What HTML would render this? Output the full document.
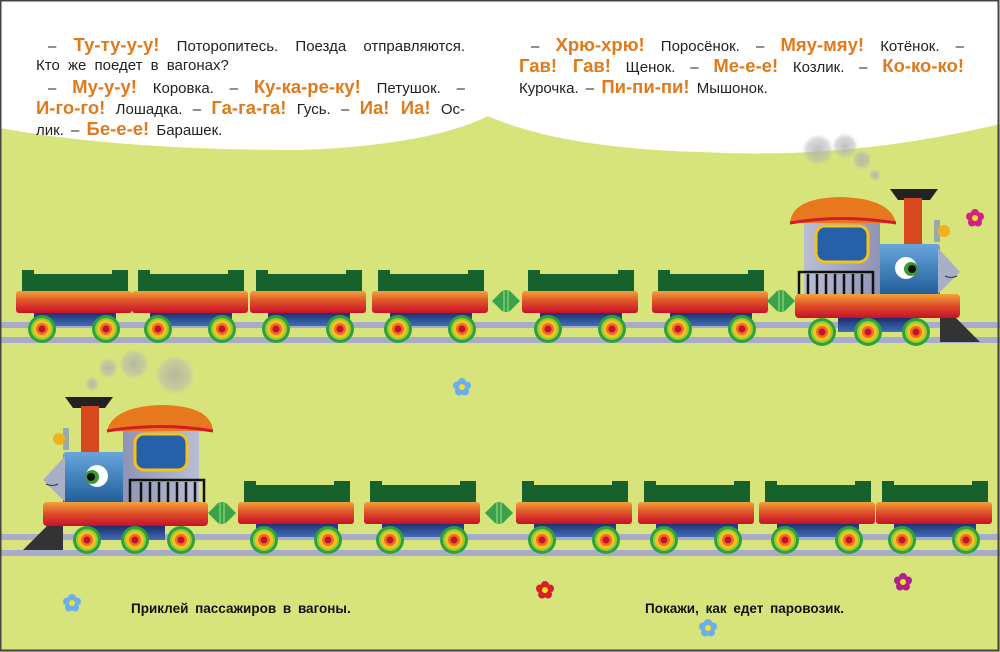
<!DOCTYPE html>
<html><head><meta charset="utf-8"><style>
body{margin:0;width:1000px;height:652px;overflow:hidden;background:#d7e47c;font-family:"Liberation Sans","DejaVu Sans",sans-serif}
#w{position:relative;width:1000px;height:652px}
svg{position:absolute;left:0;top:0}
.t{position:absolute;font-size:15px;color:#222;white-space:nowrap}
.ln{text-align:justify;text-align-last:justify;height:21px;line-height:21px}
.o{color:#e07a1c;font-weight:bold;font-size:18.5px}
.b{position:absolute;font-size:13.5px;font-weight:bold;color:#111;top:601px}
</style></head><body><div id="w">
<svg width="1000" height="652" viewBox="0 0 1000 652">
<defs>
<linearGradient id="cyl" x1="0" y1="0" x2="0" y2="1"><stop offset="0" stop-color="#f2a23a"/><stop offset="0.45" stop-color="#e0542a"/><stop offset="1" stop-color="#c8102a"/></linearGradient>
<linearGradient id="und" x1="0" y1="0" x2="0" y2="1"><stop offset="0" stop-color="#1a2560"/><stop offset="1" stop-color="#3f6cb8"/></linearGradient>
<linearGradient id="boil" x1="0" y1="0" x2="0" y2="1"><stop offset="0" stop-color="#6aa6dc"/><stop offset="1" stop-color="#1e5c98"/></linearGradient>
<linearGradient id="cab" x1="0" y1="0" x2="1" y2="0"><stop offset="0" stop-color="#b9bdd4"/><stop offset="1" stop-color="#8f94b4"/></linearGradient>
<radialGradient id="sm"><stop offset="0" stop-color="#aaa" stop-opacity=".75"/><stop offset="0.7" stop-color="#b4b4b4" stop-opacity=".5"/><stop offset="1" stop-color="#bbb" stop-opacity="0"/></radialGradient>
<g id="wh"><circle r="14" fill="#2fa03a"/><circle r="11" fill="#8ccf3a"/><circle r="9" fill="#f7c01c"/><circle r="6" fill="#e8702a"/><circle r="3.5" fill="#c8102a"/></g>
<g id="wag">
<path d="M6 0h12v4h78v-4h16v21h-106z" fill="#17622c"/>
<rect x="18" y="40" width="82" height="16" fill="url(#und)"/>
<rect x="0" y="21" width="116" height="22" rx="3" fill="url(#cyl)"/>
<use href="#wh" x="26" y="59"/><use href="#wh" x="90" y="59"/>
</g>
<g id="dia"><path d="M-14 0L-4 -10L0 -11L4 -10L14 0L4 10L0 11L-4 10Z" fill="#3aa248"/><path d="M-2 -10v20M2 -10v20" stroke="#9fe08a" stroke-width="1"/></g>
<g id="fl"><g fill="currentColor"><circle cx="0" cy="-5" r="4"/><circle cx="5" cy="-1.5" r="4"/><circle cx="3" cy="4.5" r="4"/><circle cx="-3" cy="4.5" r="4"/><circle cx="-5" cy="-1.5" r="4"/></g><circle r="3" fill="#f5e21a"/></g>
<g id="loco">
<path d="M890 189h48l-8 11h-32z" fill="#222"/>
<rect x="904" y="198" width="18" height="48" fill="#d8481e"/>
<rect x="876" y="244" width="64" height="52" rx="3" fill="url(#boil)"/>
<path d="M938 248L960 272L938 294Z" fill="#a9afc6"/>
<path d="M945 276q6 3 12 0" stroke="#333" fill="none"/>
<circle cx="906" cy="268" r="11" fill="#fff"/><circle cx="911" cy="269" r="7" fill="#3c9a30"/><circle cx="912" cy="269" r="4" fill="#111"/>
<rect x="934" y="220" width="6" height="22" fill="#9aa"/><circle cx="944" cy="231" r="6" fill="#f2b01c"/>
<rect x="804" y="216" width="76" height="80" fill="url(#cab)"/>
<rect x="816" y="226" width="52" height="36" rx="9" fill="#2560a8" stroke="#f2c41a" stroke-width="3"/>
<path d="M790 223Q792 198 840 197Q890 198 896 223Z" fill="#e8781e"/>
<path d="M790 223Q842 214 896 223" stroke="#d01c2a" stroke-width="3" fill="none"/>
<g stroke="#111" stroke-width="2.5" fill="none"><path d="M799 294v-22h74v22"/><path d="M808 274v20M817 274v20M826 274v20M835 274v20M844 274v20M853 274v20M862 274v20"/></g>
<rect x="838" y="316" width="80" height="16" fill="url(#und)"/>
<rect x="795" y="294" width="165" height="24" rx="4" fill="url(#cyl)"/>
<path d="M940 318h16l24 24h-40z" fill="#333"/>
<use href="#wh" x="822" y="332"/><use href="#wh" x="868" y="332"/><use href="#wh" x="916" y="332"/>
</g>
</defs>
<path d="M0 0H1000V124Q850 160 700 152Q560 148 488 116Q430 145 300 150Q120 150 0 128Z" fill="#fff"/>
<g fill="#a9abcb"><rect x="0" y="322" width="1000" height="6"/><rect x="0" y="337" width="1000" height="6"/><rect x="0" y="534" width="1000" height="6"/><rect x="0" y="550" width="1000" height="6"/></g>
<g fill="url(#sm)"><circle cx="818" cy="150" r="16"/><circle cx="845" cy="146" r="13"/><circle cx="862" cy="160" r="10"/><circle cx="875" cy="175" r="6"/>
<circle cx="175" cy="375" r="20"/><circle cx="134" cy="364" r="15"/><circle cx="108" cy="368" r="10"/><circle cx="92" cy="384" r="7"/></g>
<use href="#wag" x="16" y="270"/><use href="#wag" x="132" y="270"/><use href="#wag" x="250" y="270"/><use href="#wag" x="372" y="270"/><use href="#wag" x="522" y="270"/><use href="#wag" x="652" y="270"/>
<use href="#dia" x="506" y="301"/><use href="#dia" x="781" y="301"/>
<use href="#loco"/>
<use href="#loco" transform="translate(1003,208) scale(-1,1)"/>
<use href="#wag" x="238" y="481"/><use href="#wag" x="364" y="481"/><use href="#wag" x="516" y="481"/><use href="#wag" x="638" y="481"/><use href="#wag" x="759" y="481"/><use href="#wag" x="876" y="481"/>
<use href="#dia" x="222" y="513"/><use href="#dia" x="499" y="513"/>
<use href="#fl" x="975" y="218" color="#d0208a"/><use href="#fl" x="462" y="387" color="#6aaef0"/><use href="#fl" x="72" y="603" color="#6aaef0"/><use href="#fl" x="545" y="590" color="#d82028"/><use href="#fl" x="903" y="582" color="#b0208a"/><use href="#fl" x="708" y="628" color="#6aaef0"/>
<rect x="0.5" y="0.5" width="998" height="650" fill="none" stroke="#444" stroke-width="2"/>
</svg>
<div class="t" style="left:36px;top:34px;width:429px">
<div class="ln" style="padding-left:12px">– <span class="o">Ту-ту-у-у!</span> Поторопитесь. Поезда отправляются.</div>
<div class="ln" style="text-align-last:left;word-spacing:4px">Кто же поедет в вагонах?</div>
<div class="ln" style="padding-left:12px">– <span class="o">Му-у-у!</span> Коровка. – <span class="o">Ку-ка-ре-ку!</span> Петушок. –</div>
<div class="ln"><span class="o">И-го-го!</span> Лошадка. – <span class="o">Га-га-га!</span> Гусь. – <span class="o">Иа! Иа!</span> Ос-</div>
<div class="ln" style="text-align-last:left;word-spacing:3px">лик. – <span class="o">Бе-е-е!</span> Барашек.</div>
</div>
<div class="t" style="left:519px;top:34px;width:445px">
<div class="ln" style="padding-left:12px">– <span class="o">Хрю-хрю!</span> Поросёнок. – <span class="o">Мяу-мяу!</span> Котёнок. –</div>
<div class="ln"><span class="o">Гав! Гав!</span> Щенок. – <span class="o">Ме-е-е!</span> Козлик. – <span class="o">Ко-ко-ко!</span></div>
<div class="ln" style="text-align-last:left;word-spacing:3px">Курочка. – <span class="o">Пи-пи-пи!</span> Мышонок.</div>
</div>
<div class="b" style="left:131px;word-spacing:3px">Приклей пассажиров в вагоны.</div>
<div class="b" style="left:645px;word-spacing:3px">Покажи, как едет паровозик.</div>
</div></body></html>
